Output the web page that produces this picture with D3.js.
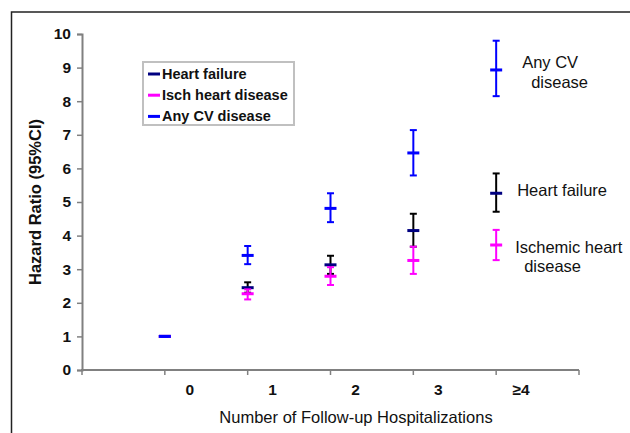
<!DOCTYPE html>
<html>
<head>
<meta charset="utf-8">
<script src="https://cdn.jsdelivr.net/npm/d3@7"></script>
<style>
  html, body { margin: 0; padding: 0; background: #fff; overflow: hidden; }
  svg { display: block; font-family: "Liberation Sans", Arial, sans-serif; }
</style>
</head>
<body>
<div id="chart"></div>
<script>
// categories on the x axis (first slot is an empty band, as in the original)
const categories = ['0', '1', '2', '3', '≥4'];
const yTicks = [0, 1, 2, 3, 4, 5, 6, 7, 8, 9, 10];

// hazard ratios and 95% CI
const hfMean = [1, 2.45, 3.13, 4.15, 5.26];
const hfLow = [1, 2.30, 2.86, 3.67, 4.71];
const hfHigh = [1, 2.61, 3.40, 4.65, 5.85];

const ihdMean = [1, 2.27, 2.79, 3.26, 3.72];
const ihdLow = [1, 2.10, 2.53, 2.86, 3.27];
const ihdHigh = [1, 2.40, 3.06, 3.67, 4.17];

const cvdMean = [1, 3.41, 4.81, 6.46, 8.93];
const cvdLow = [1, 3.15, 4.40, 5.79, 8.15];
const cvdHigh = [1, 3.69, 5.26, 7.14, 9.80];

const series = [
    { name: 'Heart failure', label: ['Heart failure'], mean: hfMean, low: hfLow, high: hfHigh, bar: '#000000', mark: '#000080' },
    { name: 'Isch heart disease', label: ['Ischemic heart', 'disease'], mean: ihdMean, low: ihdLow, high: ihdHigh, bar: '#ff00ff', mark: '#ff00ff' },
    { name: 'Any CV disease', label: ['Any CV', 'disease'], mean: cvdMean, low: cvdLow, high: cvdHigh, bar: '#0000ff', mark: '#0000ff' }
];

const svgWidth = 630;
const svgHeight = 433;

const svg = d3.select('#chart')
    .append('svg')
    .attr('width', svgWidth)
    .attr('height', svgHeight);

// outer frame, runs off the right and bottom edge
svg.append('rect')
    .attr('x', 11.5)
    .attr('y', 12)
    .attr('width', 660)
    .attr('height', 460)
    .attr('fill', 'none')
    .attr('stroke', '#222')
    .attr('stroke-width', 1.5);

const xScale = d3.scaleBand()
    .domain([''].concat(categories))
    .range([82, 579])
    .padding(0);

const yScale = d3.scaleLinear()
    .domain([0, 10])
    .range([370, 34]);

const axisColor = '#808080';

// y axis
const yAxisGroup = svg.append('g')
    .attr('transform', 'translate(82, 0)')
    .call(d3.axisLeft(yScale).tickValues(yTicks).tickSize(5).tickPadding(6).tickFormat(d => d));

yAxisGroup.select('.domain').attr('stroke', axisColor).attr('stroke-width', 2);
yAxisGroup.selectAll('.tick line').attr('stroke', axisColor).attr('stroke-width', 1.5);
yAxisGroup.selectAll('.tick text')
    .attr('fill', '#111')
    .attr('font-size', 15.5)
    .attr('font-weight', 'bold')
    .attr('font-family', '"Liberation Sans", Arial, sans-serif');

// x axis: ticks at band boundaries, labels offset to the right of each point
const xEdges = xScale.domain().map(d => xScale(d)).concat([xScale.range()[1]]);
const xAxisGroup = svg.append('g').attr('class', 'x axis');

xAxisGroup.append('line')
    .attr('x1', 81).attr('x2', 579)
    .attr('y1', 370).attr('y2', 370)
    .attr('stroke', axisColor)
    .attr('stroke-width', 2);

xAxisGroup.selectAll('line.tick')
    .data(xEdges)
    .join('line')
    .attr('class', 'tick')
    .attr('x1', d => d).attr('x2', d => d)
    .attr('y1', 370).attr('y2', 375)
    .attr('stroke', axisColor)
    .attr('stroke-width', 1.5);

xAxisGroup.selectAll('text')
    .data(categories)
    .join('text')
    .attr('x', d => xScale(d) + 25)
    .attr('y', 395)
    .attr('text-anchor', 'middle')
    .attr('font-size', 15.5)
    .attr('font-weight', 'bold')
    .attr('fill', '#111')
    .text(d => d);

// axis titles
svg.append('text')
    .attr('x', 356)
    .attr('y', 423)
    .attr('text-anchor', 'middle')
    .attr('font-size', 16.5)
    .attr('fill', '#111')
    .text('Number of Follow-up Hospitalizations');

svg.append('text')
    .attr('transform', `translate(41, ${(yScale(0) + yScale(10)) / 2}) rotate(-90)`)
    .attr('text-anchor', 'middle')
    .attr('font-size', 16.5)
    .attr('font-weight', 'bold')
    .attr('fill', '#111')
    .text('Hazard Ratio (95%CI)');

// error bars
series.forEach(s => {
    const g = svg.append('g');
    const rows = categories.map((c, i) => ({ c, mean: s.mean[i], low: s.low[i], high: s.high[i] }));

    g.selectAll('line.whisker')
        .data(rows)
        .join('line')
        .attr('class', 'whisker')
        .attr('x1', d => xScale(d.c)).attr('x2', d => xScale(d.c))
        .attr('y1', d => yScale(d.low)).attr('y2', d => yScale(d.high))
        .attr('stroke', s.bar)
        .attr('stroke-width', 2);

    ['low', 'high'].forEach(k => {
        g.selectAll(`line.cap-${k}`)
            .data(rows)
            .join('line')
            .attr('class', `cap-${k}`)
            .attr('x1', d => xScale(d.c) - 3.5).attr('x2', d => xScale(d.c) + 3.5)
            .attr('y1', d => yScale(d[k])).attr('y2', d => yScale(d[k]))
            .attr('stroke', s.bar)
            .attr('stroke-width', 2);
    });

    g.selectAll('line.mean')
        .data(rows)
        .join('line')
        .attr('class', 'mean')
        .attr('x1', d => xScale(d.c) - 6).attr('x2', d => xScale(d.c) + 6)
        .attr('y1', d => yScale(d.mean)).attr('y2', d => yScale(d.mean))
        .attr('stroke', s.mark)
        .attr('stroke-width', 3);
});

// direct labels next to the last category
const last = categories[categories.length - 1];
const labelPos = [
    { x: [21], y: [195.5] },
    { x: [19, 28], y: [252.5, 272] },
    { x: [26, 35], y: [68, 88] }
];
series.forEach((s, si) => {
    s.label.forEach((t, li) => {
        svg.append('text')
            .attr('x', xScale(last) + labelPos[si].x[li])
            .attr('y', labelPos[si].y[li])
            .attr('font-size', 16.5)
            .attr('fill', '#111')
            .text(t);
    });
});

// legend
const legend = svg.append('g').attr('transform', 'translate(143, 62)');
legend.append('rect')
    .attr('width', 151)
    .attr('height', 63)
    .attr('fill', '#fff')
    .attr('stroke', '#c0c0c0')
    .attr('stroke-width', 2);

const legendItems = legend.selectAll('g.item')
    .data(series)
    .join('g')
    .attr('class', 'item')
    .attr('transform', (d, i) => `translate(0, ${12 + i * 21.2})`);

legendItems.append('line')
    .attr('x1', 5).attr('x2', 17)
    .attr('y1', 0).attr('y2', 0)
    .attr('stroke', d => d.mark)
    .attr('stroke-width', 3);

legendItems.append('text')
    .attr('x', 19)
    .attr('y', 5)
    .attr('font-size', 14.5)
    .attr('font-weight', 'bold')
    .attr('fill', '#111')
    .text(d => d.name);
</script>
</body>
</html>
